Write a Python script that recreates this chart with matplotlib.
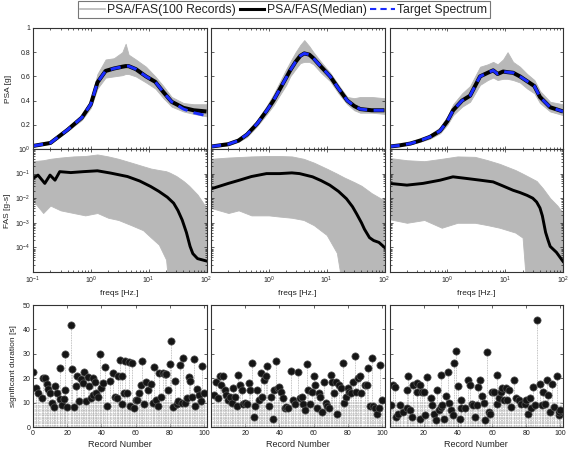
import numpy as np
import matplotlib
matplotlib.use("Agg")
import matplotlib.pyplot as plt
from matplotlib.lines import Line2D
from matplotlib.ticker import FixedLocator, NullFormatter, LogLocator

plt.rcParams['font.family'] = ['Liberation Sans', 'DejaVu Sans']
plt.rcParams['mathtext.default'] = 'regular'

# ---------------- PSA (top row) ----------------
psa_f1 = [0.1, 0.2, 0.4, 0.7, 1.0, 1.3, 1.8, 2.5, 3.5, 4.0, 4.5, 6, 9, 13, 18, 25, 40, 60, 100]
psa_t1 = [0.025, 0.05, 0.16, 0.26, 0.37, 0.55, 0.645, 0.665, 0.68, 0.685, 0.685, 0.66, 0.60, 0.555, 0.47, 0.39, 0.33, 0.30, 0.275]
psa_m1 = [0.025, 0.05, 0.16, 0.26, 0.37, 0.55, 0.645, 0.665, 0.68, 0.685, 0.685, 0.66, 0.60, 0.555, 0.47, 0.39, 0.34, 0.32, 0.31]
psa_u1 = [0.03, 0.06, 0.18, 0.28, 0.41, 0.62, 0.74, 0.75, 0.80, 0.87, 0.78, 0.74, 0.68, 0.60, 0.52, 0.43, 0.38, 0.37, 0.37]
psa_l1 = [0.02, 0.045, 0.15, 0.24, 0.34, 0.50, 0.59, 0.60, 0.61, 0.62, 0.62, 0.60, 0.55, 0.50, 0.42, 0.35, 0.31, 0.29, 0.27]

psa_f2 = [0.1, 0.2, 0.3, 0.42, 0.63, 0.93, 1.2, 1.57, 2.0, 2.34, 2.9, 3.5, 4.1, 5.0, 5.9, 8, 11.5, 16, 22.7, 30, 38, 60, 100]
psa_t2 = [0.02, 0.04, 0.07, 0.12, 0.21, 0.32, 0.40, 0.50, 0.59, 0.65, 0.72, 0.77, 0.79, 0.78, 0.75, 0.68, 0.60, 0.50, 0.40, 0.355, 0.33, 0.32, 0.32]
psa_m2 = [0.02, 0.04, 0.07, 0.12, 0.21, 0.32, 0.40, 0.50, 0.59, 0.65, 0.72, 0.77, 0.79, 0.78, 0.75, 0.68, 0.60, 0.50, 0.40, 0.355, 0.33, 0.32, 0.32]
psa_u2 = [0.025, 0.05, 0.08, 0.14, 0.24, 0.36, 0.45, 0.56, 0.66, 0.72, 0.80, 0.86, 0.90, 0.85, 0.80, 0.72, 0.63, 0.53, 0.43, 0.42, 0.43, 0.43, 0.42]
psa_l2 = [0.015, 0.03, 0.06, 0.10, 0.19, 0.29, 0.36, 0.45, 0.53, 0.60, 0.66, 0.71, 0.72, 0.72, 0.70, 0.63, 0.56, 0.46, 0.37, 0.32, 0.30, 0.30, 0.29]

psa_f3 = [0.1, 0.15, 0.23, 0.34, 0.5, 0.75, 1.0, 1.26, 1.8, 2.47, 3.68, 5, 6.2, 7.4, 9.2, 11, 13.7, 18, 24, 32, 40, 60, 100]
psa_t3 = [0.02, 0.03, 0.045, 0.07, 0.10, 0.15, 0.23, 0.32, 0.40, 0.44, 0.60, 0.63, 0.65, 0.62, 0.64, 0.635, 0.63, 0.60, 0.56, 0.52, 0.43, 0.345, 0.31]
psa_m3 = [0.02, 0.03, 0.045, 0.07, 0.10, 0.15, 0.23, 0.32, 0.40, 0.44, 0.60, 0.63, 0.65, 0.62, 0.64, 0.635, 0.63, 0.60, 0.56, 0.52, 0.43, 0.345, 0.31]
psa_u3 = [0.025, 0.035, 0.05, 0.08, 0.12, 0.18, 0.27, 0.37, 0.46, 0.52, 0.68, 0.70, 0.72, 0.70, 0.74, 0.80, 0.72, 0.68, 0.62, 0.57, 0.48, 0.39, 0.37]
psa_l3 = [0.015, 0.025, 0.04, 0.06, 0.085, 0.13, 0.20, 0.28, 0.35, 0.39, 0.53, 0.57, 0.59, 0.57, 0.58, 0.58, 0.57, 0.55, 0.50, 0.46, 0.38, 0.31, 0.28]

# ---------------- FAS (middle row) ----------------
fas_f1 = [0.1, 0.122, 0.16, 0.197, 0.24, 0.29, 0.45, 0.74, 1.3, 2.2, 4.3, 7, 10.8, 15, 21, 27, 32, 38, 45, 52, 58, 70, 100]
fas_m1 = [6.3e-2, 8.7e-2, 4.0e-2, 8.7e-2, 5.4e-2, 1.2e-1, 1.1e-1, 1.2e-1, 1.3e-1, 1.05e-1, 7.6e-2, 5.0e-2,
          3.0e-2, 1.9e-2, 1.1e-2, 6.3e-3, 3.2e-3, 1.3e-3, 4.0e-4, 1.1e-4, 5.6e-5, 3.5e-5, 2.8e-5]
fas_ef1 = [0.1, 0.15, 0.2, 0.3, 0.5, 0.8, 1.3, 2, 3, 5, 8, 11, 15, 20, 23, 30, 40, 50, 70, 100]
fas_u1 = [3.2e-1, 3.5e-1, 4.0e-1, 4.5e-1, 5.0e-1, 5.2e-1, 6.0e-1, 5.0e-1, 4.0e-1, 2.8e-1, 2.0e-1, 1.6e-1,
          1.4e-1, 1.25e-1, 1.1e-1, 8.0e-2, 5.0e-2, 3.2e-2, 1.4e-2, 4.0e-3]
fas_l1 = [8.0e-3, 2.5e-3, 5.0e-3, 3.2e-3, 2.5e-3, 2.0e-3, 2.5e-3, 1.6e-3, 1.3e-3, 8.0e-4, 5.0e-4, 2.5e-4,
          1.3e-4, 3.2e-5, 1e-6, 1e-6, 1e-6, 1e-6, 1e-6, 1e-6]

fas_f2 = [0.106, 0.2, 0.31, 0.5, 0.91, 1.53, 2.5, 3.4, 5.7, 8, 11.3, 16, 22, 28, 33, 40, 45, 55, 65, 80, 100]
fas_m2 = [2.5e-2, 4.0e-2, 5.4e-2, 7.6e-2, 1.0e-1, 1.0e-1, 1.07e-1, 1.0e-1, 7.4e-2, 5.2e-2, 3.4e-2, 1.9e-2,
          9.5e-3, 4.5e-3, 2.3e-3, 1.0e-3, 5.5e-4, 2.5e-4, 1.9e-4, 1.6e-4, 1.0e-4]
fas_ef2 = [0.1, 0.2, 0.3, 0.5, 1, 1.5, 2.5, 4, 6, 10, 15, 20, 30, 40, 60, 100]
fas_u2 = [4.0e-1, 4.5e-1, 4.7e-1, 5.0e-1, 5.2e-1, 5.2e-1, 5.0e-1, 4.0e-1, 2.8e-1, 1.6e-1, 1.0e-1, 7.0e-2,
          4.5e-2, 3.2e-2, 1.6e-2, 8.0e-3]
fas_l2 = [4.0e-3, 2.5e-3, 3.2e-3, 2.0e-3, 2.0e-3, 1.8e-3, 1.6e-3, 1.3e-3, 8.0e-4, 3.2e-4, 6.0e-5, 1e-6,
          1e-6, 1e-6, 1e-6, 1e-6]

fas_f3 = [0.1, 0.2, 0.38, 0.75, 1.25, 2.2, 3.7, 6.2, 9, 13.7, 18, 24, 30, 35, 40, 44, 50, 55, 60, 77, 100]
fas_m3 = [4.0e-2, 3.4e-2, 4.0e-2, 5.4e-2, 7.4e-2, 6.3e-2, 5.4e-2, 4.6e-2, 3.2e-2, 2.1e-2, 1.7e-2, 1.3e-2,
          1.0e-2, 7.0e-3, 4.0e-3, 1.9e-3, 4.1e-4, 2.0e-4, 1.1e-4, 6.3e-5, 2.7e-5]
fas_ef3 = [0.1, 0.2, 0.4, 0.8, 1.5, 3, 5, 8, 15, 20, 24, 35, 45, 60, 80, 100]
fas_u3 = [4.3e-1, 3.5e-1, 3.2e-1, 4.0e-1, 5.0e-1, 4.8e-1, 3.5e-1, 2.5e-1, 1.4e-1, 1.0e-1, 8.0e-2, 5.0e-2,
          2.5e-2, 1.0e-2, 5.0e-3, 2.5e-3]
fas_l3 = [1.4e-3, 1.0e-3, 1.3e-3, 6.3e-4, 1.0e-3, 1.0e-3, 8.0e-4, 6.3e-4, 4.0e-4, 2.5e-4, 1e-6, 1e-6,
          1e-6, 1e-6, 1e-6, 1e-6]

# ---------------- significant duration (bottom row) ----------------
rec1 = [0, 2, 3, 5, 6, 7, 8, 9, 10, 11, 12, 13, 14, 16, 16, 17, 18, 19, 19, 20, 22, 23, 24, 25, 26, 27, 28,
        29, 30, 31, 32, 33, 34, 35, 35, 36, 37, 38, 39, 40, 41, 42, 43, 45, 47, 48, 49, 50, 51, 52, 52, 53,
        54, 55, 56, 57, 58, 59, 60, 61, 62, 63, 64, 65, 66, 67, 69, 70, 71, 72, 73, 74, 75, 76, 77, 78, 79,
        80, 81, 82, 83, 84, 85, 86, 87, 88, 89, 90, 91, 92, 93, 94, 95, 96, 97, 98, 99, 100]
dur1 = [22.7, 15.9, 14.0, 11.7, 20.0, 20.0, 17.7, 15.5, 14.0, 9.8, 8.0, 17.0, 14.0, 24.0, 11.5, 9.0, 11.5,
        29.9, 15.0, 8.0, 42.0, 23.7, 8.0, 16.7, 21.0, 10.5, 19.7, 18.0, 22.7, 10.5, 20.5, 16.8, 12.0, 20.0,
        13.0, 18.5, 14.0, 12.4, 29.9, 16.0, 17.9, 24.7, 8.5, 19.0, 22.0, 12.4, 11.7, 21.0, 27.4, 9.6, 20.7,
        14.0, 27.1, 14.0, 26.8, 8.5, 26.3, 7.6, 11.0, 11.0, 13.8, 17.3, 27.0, 9.6, 18.5, 15.3, 17.8, 10.0,
        24.5, 11.0, 8.7, 22.3, 12.4, 22.0, 21.8, 21.8, 15.0, 26.0, 35.3, 8.0, 18.8, 9.6, 10.5, 25.5, 10.0,
        28.3, 10.0, 11.7, 20.3, 18.8, 12.4, 28.0, 8.7, 15.5, 13.0, 10.5, 25.2, 14.0]

rec2 = [2, 3, 4, 5, 6, 7, 8, 9, 10, 11, 12, 13, 14, 15, 16, 17, 18, 19, 20, 21, 22, 23, 24, 25, 26, 27, 28,
        29, 30, 31, 32, 33, 34, 35, 36, 37, 38, 39, 40, 41, 42, 43, 44, 45, 47, 48, 49, 51, 52, 53, 54, 55,
        56, 57, 58, 59, 60, 61, 62, 63, 64, 65, 66, 67, 68, 69, 70, 71, 72, 73, 74, 75, 76, 77, 78, 79, 80,
        81, 82, 83, 84, 85, 86, 87, 88, 90, 91, 92, 93, 94, 95, 96, 97, 98, 99, 100]
dur2 = [13.1, 18.6, 11.7, 20.7, 17.2, 20.7, 15.2, 13.1, 11.0, 12.4, 10.0, 15.9, 12.4, 8.7, 21.4, 17.2, 15.2,
        9.6, 10.0, 9.6, 17.9, 15.2, 26.2, 4.1, 8.7, 15.2, 11.0, 22.0, 12.4, 19.1, 20.7, 24.8, 8.7, 12.4, 3.1,
        15.2, 27.2, 15.9, 16.5, 14.5, 11.7, 7.6, 8.3, 7.6, 23.0, 11.0, 9.6, 22.7, 11.7, 12.4, 9.6, 6.9, 25.9,
        15.2, 9.6, 14.5, 20.7, 17.2, 7.6, 13.8, 12.4, 6.2, 18.6, 10.0, 8.7, 7.6, 21.4, 18.6, 13.8, 18.6, 5.5,
        17.2, 15.9, 26.2, 10.0, 12.4, 15.9, 14.5, 13.8, 18.6, 29.3, 14.5, 19.9, 20.7, 13.8, 17.2, 17.2, 24.0,
        8.7, 28.2, 8.7, 7.6, 5.5, 7.6, 25.5, 11.0]

rec3 = [1, 2, 3, 4, 5, 6, 8, 10, 10, 11, 12, 13, 14, 16, 16, 18, 18, 19, 20, 21, 22, 24, 25, 26, 27, 28, 29,
        30, 30, 31, 32, 33, 34, 35, 36, 37, 38, 39, 40, 41, 42, 42, 44, 46, 47, 48, 49, 50, 51, 52, 53, 54,
        55, 56, 57, 58, 59, 60, 61, 63, 63, 64, 65, 66, 67, 68, 69, 70, 71, 73, 74, 76, 77, 79, 80, 81, 82,
        83, 84, 85, 86, 88, 89, 90, 91, 92, 93, 94, 95, 96, 98, 99, 99, 100]
dur3 = [9.0, 17.2, 16.5, 4.1, 5.5, 9.0, 6.2, 7.6, 15.2, 21.0, 6.9, 4.1, 17.2, 17.9, 14.5, 17.2, 3.4, 14.5,
        14.5, 4.8, 20.3, 11.7, 9.0, 5.5, 2.7, 15.2, 6.9, 8.3, 21.4, 9.0, 3.4, 12.8, 22.7, 10.0, 6.9, 4.8,
        26.4, 31.3, 16.8, 3.4, 11.0, 7.6, 7.6, 19.1, 17.2, 9.6, 9.0, 4.1, 9.0, 16.5, 19.1, 12.8, 10.0, 2.7,
        30.9, 6.2, 5.5, 14.5, 14.5, 9.6, 21.4, 11.7, 14.5, 15.9, 11.0, 15.9, 11.0, 15.2, 8.3, 19.4, 11.7,
        11.0, 9.6, 9.6, 11.0, 5.5, 11.7, 7.6, 16.2, 9.0, 43.7, 17.5, 9.0, 14.5, 9.6, 19.1, 13.1, 6.2, 17.5,
        8.3, 21.0, 4.8, 6.2, 6.9]

psa_sets = [(psa_f1, psa_t1, psa_m1, psa_u1, psa_l1),
            (psa_f2, psa_t2, psa_m2, psa_u2, psa_l2),
            (psa_f3, psa_t3, psa_m3, psa_u3, psa_l3)]
fas_sets = [(fas_f1, fas_m1, fas_ef1, fas_u1, fas_l1),
            (fas_f2, fas_m2, fas_ef2, fas_u2, fas_l2),
            (fas_f3, fas_m3, fas_ef3, fas_u3, fas_l3)]
dur_sets = [(rec1, dur1), (rec2, dur2), (rec3, dur3)]

GRAY = '#b8b8b8'
BLUE = '#1a2cff'
TXT = '#222222'
STEM = '#b0b0b0'
lefts = [33 / 570, 211 / 570, 389.5 / 570]
w = 173.5 / 570

fig = plt.figure(figsize=(5.7, 4.5), dpi=100)


def style(ax):
    ax.tick_params(which='both', direction='in', top=True, right=True, width=0.5,
                   labelsize=5, colors=TXT, pad=2)
    ax.tick_params(which='major', length=2.5)
    ax.tick_params(which='minor', length=1.5)
    for s in ax.spines.values():
        s.set_color('#333333')
        s.set_linewidth(0.8)


for i in range(3):
    # PSA
    f, t, m, u, l = psa_sets[i]
    ax = fig.add_axes([lefts[i], 1 - 149 / 450, w, 121 / 450])
    ax.fill_between(f, l, u, color=GRAY, lw=0.6, edgecolor=GRAY)
    ax.plot(f, m, color='black', lw=2.9, solid_capstyle='butt', solid_joinstyle='round')
    ax.plot(f, t, color=BLUE, lw=2.1, ls=(0, (3.5, 2.2)))
    ax.set_xscale('log')
    ax.set_xlim(0.1, 100)
    ax.set_ylim(0, 1)
    ax.set_yticks([0, 0.2, 0.4, 0.6, 0.8, 1])
    ax.xaxis.set_major_formatter(NullFormatter())
    ax.xaxis.set_minor_formatter(NullFormatter())
    style(ax)
    if i == 0:
        ax.set_yticklabels(['', '0.2', '0.4', '0.6', '0.8', '1'])
        ax.set_ylabel('PSA [g]', fontsize=6, color=TXT, labelpad=6)
    else:
        ax.set_yticklabels([])

    # FAS
    f, m, ef, u, l = fas_sets[i]
    ax = fig.add_axes([lefts[i], 1 - 272 / 450, w, 123 / 450])
    ax.fill_between(ef, l, u, color=GRAY, lw=0.6, edgecolor=GRAY)
    ax.plot(f, m, color='black', lw=2.1, solid_joinstyle='round')
    ax.set_xscale('log')
    ax.set_yscale('log')
    ax.set_xlim(0.1, 100)
    ax.set_ylim(1e-5, 1)
    ax.yaxis.set_major_locator(FixedLocator([1e-4, 1e-3, 1e-2, 1e-1, 1]))
    ax.yaxis.set_minor_locator(LogLocator(base=10, subs=np.arange(2, 10)))
    ax.yaxis.set_minor_formatter(NullFormatter())
    ax.xaxis.set_minor_formatter(NullFormatter())
    style(ax)
    if i == 0:
        ax.xaxis.set_major_locator(FixedLocator([0.1, 1, 10, 100]))
        ax.set_ylabel('FAS [g-s]', fontsize=6, color=TXT, labelpad=3)
    else:
        ax.xaxis.set_major_locator(FixedLocator([1, 10, 100]))
        ax.yaxis.set_major_formatter(NullFormatter())
    ax.set_xlabel('freqs [Hz.]', fontsize=6, color=TXT, labelpad=3)

    # significant duration
    r, d = dur_sets[i]
    ax = fig.add_axes([lefts[i], 1 - 427 / 450, w, 122 / 450])
    ax.yaxis.set_minor_locator(FixedLocator(np.arange(0.4, 10.8, 0.55)))
    ax.grid(which='minor', axis='y', color=STEM, lw=0.5, ls=(0, (1, 1)))
    ax.vlines(r, 0, d, colors=STEM, lw=0.6, linestyles=(0, (1, 1)))
    ax.plot(r, d, 'o', ms=5.2, mfc='#151515', mec='#555555', mew=0.5)
    ax.set_xlim(0, 101.5)
    ax.set_ylim(0, 50)
    ax.set_yticks([0, 10, 20, 30, 40, 50])
    style(ax)
    ax.tick_params(which='minor', length=0)
    if i == 0:
        ax.set_xticks([0, 20, 40, 60, 80, 100])
        ax.set_ylabel('significant duration [s]', fontsize=6, color=TXT, labelpad=4)
    else:
        ax.set_xticks([20, 40, 60, 80, 100])
        ax.set_yticklabels([])
    ax.set_xlabel('Record Number', fontsize=6.5, color=TXT, labelpad=2)

handles = [Line2D([], [], color=GRAY, lw=1.2),
           Line2D([], [], color='black', lw=2.2),
           Line2D([], [], color=BLUE, lw=1.5, ls=(0, (3, 2)))]
labels = ['PSA/FAS(100 Records)', 'PSA/FAS(Median)', 'Target Spectrum']
leg = fig.legend(handles, labels, loc='upper center', bbox_to_anchor=(0.498, 0.997), ncol=3,
                 fontsize=8.8, frameon=True, fancybox=False, edgecolor='#555555',
                 handlelength=2.0, handletextpad=0.2, columnspacing=0.3, borderpad=0.2,
                 borderaxespad=0)
leg.get_frame().set_linewidth(0.8)
for txt in leg.get_texts():
    txt.set_color(TXT)

fig.savefig('out.png', dpi=100)
